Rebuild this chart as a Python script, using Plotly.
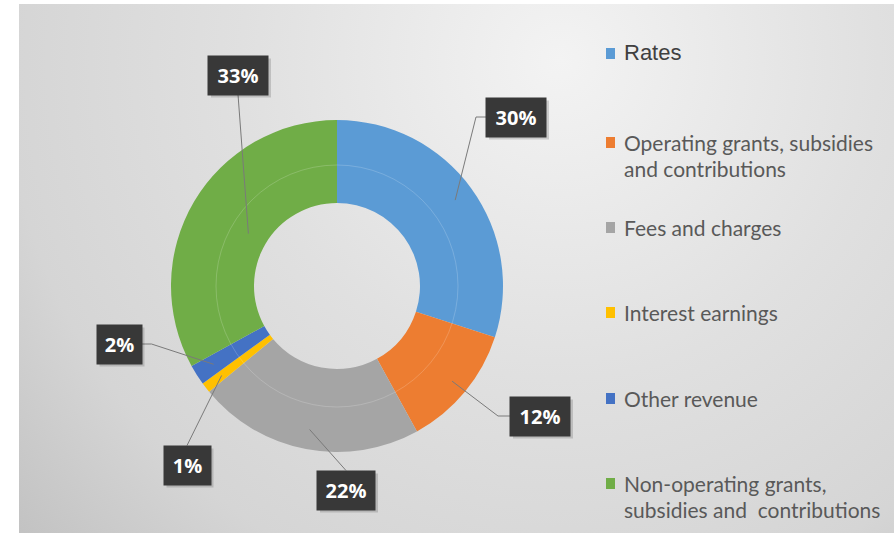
import plotly.graph_objects as go
import numpy as np

# ---------------- data ----------------
categories = ["Rates",
              "Operating grants, subsidies and contributions",
              "Fees and charges",
              "Interest earnings",
              "Other revenue",
              "Non-operating grants, subsidies and  contributions"]
legend_lines = [["Rates"],
                ["Operating grants, subsidies", "and contributions"],
                ["Fees and charges"],
                ["Interest earnings"],
                ["Other revenue"],
                ["Non-operating grants,", "subsidies and  contributions"]]
values = [30, 12, 22, 1, 2, 33]
colors = ["#5B9BD5", "#ED7D31", "#A5A5A5", "#FFC000", "#4472C4", "#70AD47"]

# ---------------- layout geometry ----------------
W, H = 894, 533
cx, cy, R = 337, 286, 166
HOLE = 0.5
BG_X0, BG_Y0 = 19, 4

# label boxes (pixel centres) and leader-line styling
label_pos = [(516, 117), (540, 416), (346, 490), (187, 465), (119, 344), (238, 75)]
label_w = [60, 60, 58, 47, 45, 60]
label_h = 39
leader_side = ["left", "left", "top", "top", "right", "bottom"]
leader_elbow = [10, 12, 0, 0, 10, 0]
leader_rfrac = [0.88, 0.90, 0.88, 0.88, 0.88, 0.62]

legend_y = [53, 142, 227, 312, 398, 483]   # first line centre
LEG_MARK_X = 606
LEG_TEXT_X = 622
LINE_H = 26

fig = go.Figure()

# background with radial gradient (clipped to axis area)
gx, gy, gs = 560, 60, 740
fig.add_trace(go.Scatter(
    x=[gx - gs, gx + gs, gx + gs, gx - gs, gx - gs],
    y=[gy - gs, gy - gs, gy + gs, gy + gs, gy - gs],
    mode="lines", line=dict(width=0), fill="toself",
    fillgradient=dict(type="radial",
                      colorscale=[[0, "#f3f3f3"], [0.43, "#e0e0e0"],
                                  [0.75, "#d5d5d5"], [1.0, "#c0c0c0"]]),
    hoverinfo="skip", showlegend=False))

# donut
fig.add_trace(go.Pie(
    labels=categories, values=values, hole=HOLE, sort=False,
    direction="clockwise", rotation=0,
    marker=dict(colors=colors, line=dict(width=0)),
    textinfo="none", showlegend=False, hoverinfo="label+percent",
    domain=dict(x=[(cx - R) / W, (cx + R) / W],
                y=[(H - cy - R) / H, (H - cy + R) / H])))

shapes = []
annotations = []

# faint bevel ring inside the donut
shapes.append(dict(type="circle", xref="x", yref="y",
                   x0=cx - 121, x1=cx + 121, y0=cy - 121, y1=cy + 121,
                   line=dict(color="rgba(255,255,255,0.18)", width=1)))

# leader lines + labels
total = sum(values)
cum = 0.0
for i, v in enumerate(values):
    mid = (cum + v / 2) / total * 2 * np.pi
    cum += v
    r = R * leader_rfrac[i]
    ex, ey = cx + r * np.sin(mid), cy - r * np.cos(mid)
    lx, ly = label_pos[i]
    side = leader_side[i]
    if side == "left":
        ax, ay = lx - label_w[i] / 2, ly
        bx, by = ax - leader_elbow[i], ay
    elif side == "right":
        ax, ay = lx + label_w[i] / 2, ly
        bx, by = ax + leader_elbow[i], ay
    elif side == "top":
        ax, ay = lx, ly - label_h / 2
        bx, by = ax, ay
    else:
        ax, ay = lx, ly + label_h / 2
        bx, by = ax, ay
    shapes.append(dict(type="path", xref="x", yref="y",
                       path=f"M {ax},{ay} L {bx},{by} L {ex:.1f},{ey:.1f}",
                       line=dict(color="#7a7a7a", width=1)))
    shapes.append(dict(type="rect", xref="x", yref="y",
                       x0=lx - label_w[i] / 2 + 3, x1=lx + label_w[i] / 2 + 3,
                       y0=ly - label_h / 2 + 3, y1=ly + label_h / 2 + 3,
                       line=dict(width=0), fillcolor="rgba(0,0,0,0.15)"))
    annotations.append(dict(xref="x", yref="y", x=lx, y=ly,
                            text=f"<b>{v}%</b>", showarrow=False,
                            xanchor="center", yanchor="middle",
                            width=label_w[i], height=label_h,
                            bgcolor="#383838", borderpad=0,
                            font=dict(family="Open Sans", size=20, color="white")))

# legend (markers + text)
for i, lines in enumerate(legend_lines):
    y0 = legend_y[i]
    shapes.append(dict(type="rect", xref="x", yref="y",
                       x0=LEG_MARK_X, x1=LEG_MARK_X + 9,
                       y0=y0 - 5, y1=y0 + 6,
                       line=dict(width=0), fillcolor=colors[i]))
    if i == 0:
        fnt = dict(family="Liberation Sans", size=22, color="#404040")
    else:
        fnt = dict(family="Lato", size=21, color="#595959")
    for j, t in enumerate(lines):
        annotations.append(dict(xref="x", yref="y", x=LEG_TEXT_X, y=y0 + j * LINE_H,
                                text=t, showarrow=False, xanchor="left",
                                yanchor="middle", font=fnt))

fig.update_layout(
    width=W, height=H, margin=dict(l=0, r=0, t=0, b=0),
    paper_bgcolor="white", plot_bgcolor="rgba(0,0,0,0)",
    xaxis=dict(domain=[BG_X0 / W, 1], range=[BG_X0, W], visible=False, fixedrange=True),
    yaxis=dict(domain=[0, 1 - BG_Y0 / H], range=[H, BG_Y0], visible=False, fixedrange=True),
    shapes=shapes, annotations=annotations, showlegend=False)

fig.write_html("out.html")
